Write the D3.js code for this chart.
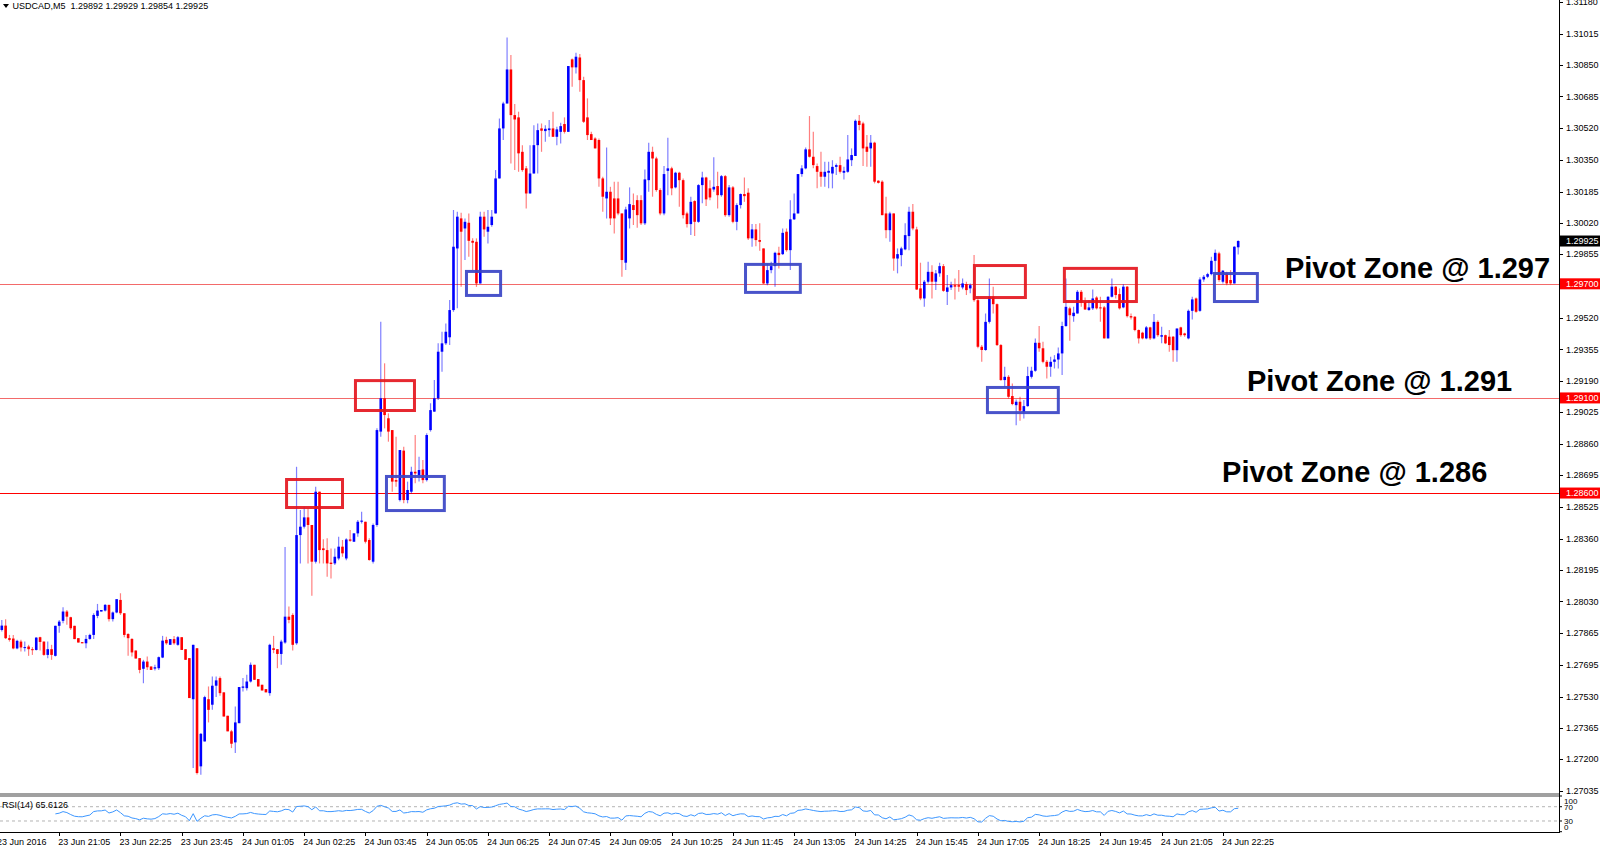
<!DOCTYPE html>
<html><head><meta charset="utf-8">
<script src="https://cdn.jsdelivr.net/npm/d3@7"></script>
<style>html,body{margin:0;padding:0;background:#fff;overflow:hidden}</style>
</head><body><svg id="c" width="1600" height="851"></svg>
<script>
// ---------- DATA (USDCAD M5, 23 Jun 19:50 .. 24 Jun 22:45) ----------
const symbolTitle = "USDCAD,M5";
const lastOHLC = ["1.29892", "1.29929", "1.29854", "1.29925"];
const opens = [
1.27880,1.27903,1.27837,1.27835,1.27783,1.27819,1.27786,1.27793,1.27779,1.27775,1.27842,1.27819,1.27749,1.27779,1.27744,1.27902,1.27928,1.27977,1.27947,1.27902,
1.27837,1.27816,1.27810,1.27833,1.27854,1.27954,1.27977,1.27982,1.28012,1.27937,1.27972,1.28038,1.27968,1.27859,1.27833,1.27772,1.27732,1.27676,1.27714,1.27688,
1.27677,1.27679,1.27735,1.27828,1.27802,1.27832,1.27802,1.27842,1.27779,1.27732,1.27516,1.27784,1.27163,1.27294,1.27516,1.27487,1.27587,1.27627,1.27552,1.27429,
1.27347,1.27289,1.27390,1.27576,1.27574,1.27609,1.27697,1.27622,1.27592,1.27569,1.27548,1.27784,1.27779,1.27754,1.27814,1.27950,1.27959,1.27810,1.28379,1.28423,
1.28472,1.28432,1.28239,1.28607,1.28309,1.28300,1.28234,1.28230,1.28256,1.28318,1.28256,1.28356,1.28344,1.28388,1.28449,1.28449,1.28353,1.28239,1.28432,1.28923,
1.29098,1.28993,1.28931,1.28668,1.28563,1.28823,1.28563,1.28607,1.28712,1.28695,1.28724,1.28668,1.28931,1.29028,1.29098,1.29343,1.29387,1.29419,1.29562,1.29886,
1.30044,1.29991,1.30021,1.29926,1.29921,1.29702,1.30053,1.29974,1.30009,1.30070,1.30254,1.30517,1.30648,1.30827,1.30587,1.30575,1.30394,1.30307,1.30175,1.30280,
1.30429,1.30517,1.30503,1.30508,1.30517,1.30473,1.30499,1.30540,1.30499,1.30880,1.30838,1.30890,1.30771,1.30575,1.30487,1.30464,1.30456,1.30254,1.30149,1.30184,
1.30149,1.30149,1.30070,1.29811,1.30044,1.30114,1.30140,1.30140,1.30018,1.30245,1.30394,1.30359,1.30193,1.30070,1.30294,1.30307,1.30207,1.30284,1.30245,1.30070,
1.30014,1.30135,1.30026,1.30219,1.30259,1.30202,1.30196,1.30214,1.30166,1.30266,1.30061,1.30207,1.30026,1.30114,1.30172,1.30179,1.29939,1.29986,1.29930,1.29886,
1.29702,1.29772,1.29793,1.29863,1.29856,1.29974,1.29877,1.30039,1.30070,1.30277,1.30307,1.30407,1.30368,1.30319,1.30289,1.30263,1.30284,1.30280,1.30315,1.30324,
1.30284,1.30289,1.30350,1.30372,1.30557,1.30543,1.30421,1.30412,1.30442,1.30242,1.30237,1.30070,1.29982,1.30070,1.29833,1.29851,1.29881,1.29951,1.30079,1.29986,
1.29676,1.29623,1.29711,1.29763,1.29711,1.29755,1.29793,1.29658,1.29681,1.29693,1.29693,1.29681,1.29699,1.29676,1.29676,1.29614,1.29369,1.29352,1.29500,1.29632,
1.29593,1.29378,1.29194,1.29211,1.29110,1.29062,1.29080,1.29027,1.29057,1.29211,1.29243,1.29390,1.29361,1.29290,1.29264,1.29290,1.29302,1.29334,1.29478,1.29571,
1.29530,1.29544,1.29658,1.29606,1.29562,1.29571,1.29628,1.29576,1.29576,1.29413,1.29632,1.29685,1.29646,1.29576,1.29685,1.29530,1.29527,1.29457,1.29443,1.29413,
1.29471,1.29413,1.29500,1.29422,1.29430,1.29422,1.29422,1.29351,1.29471,1.29439,1.29413,1.29558,1.29623,1.29558,1.29723,1.29737,1.29751,1.29821,1.29860,1.29711,
1.29755,1.29720,1.29702,1.29892];
const highs = [
1.27933,1.27937,1.27854,1.27854,1.27828,1.27828,1.27819,1.27802,1.27790,1.27842,1.27845,1.27819,1.27819,1.27802,1.27902,1.27933,1.28000,1.27985,1.27950,1.27902,
1.27837,1.27816,1.27854,1.27860,1.27968,1.28017,1.27985,1.28017,1.28012,1.27977,1.28042,1.28073,1.27968,1.27863,1.27837,1.27772,1.27732,1.27723,1.27740,1.27688,
1.27697,1.27740,1.27849,1.27845,1.27832,1.27849,1.27849,1.27842,1.27779,1.27732,1.27802,1.27784,1.27338,1.27534,1.27583,1.27635,1.27635,1.27635,1.27552,1.27429,
1.27355,1.27478,1.27580,1.27627,1.27644,1.27709,1.27697,1.27622,1.27592,1.27569,1.27807,1.27849,1.27779,1.27828,1.28316,1.28003,1.27968,1.28738,1.28511,1.28528,
1.28519,1.28432,1.28633,1.28607,1.28357,1.28362,1.28309,1.28309,1.28370,1.28353,1.28362,1.28405,1.28388,1.28458,1.28502,1.28449,1.28362,1.28440,1.28940,1.29501,
1.29282,1.29019,1.28931,1.28896,1.28826,1.28844,1.28660,1.28738,1.28905,1.28791,1.28774,1.28914,1.29072,1.29194,1.29387,1.29448,1.29492,1.29615,1.30088,1.30079,
1.30074,1.30044,1.30070,1.29939,1.29939,1.30079,1.30079,1.30088,1.30088,1.30298,1.30569,1.30657,1.30995,1.30903,1.30645,1.30605,1.30429,1.30319,1.30429,1.30534,
1.30543,1.30543,1.30534,1.30561,1.30605,1.30526,1.30547,1.30575,1.30845,1.30885,1.30915,1.30908,1.30789,1.30675,1.30499,1.30470,1.30464,1.30263,1.30417,1.30210,
1.30237,1.30237,1.30070,1.30105,1.30207,1.30175,1.30166,1.30166,1.30301,1.30442,1.30421,1.30368,1.30202,1.30319,1.30468,1.30315,1.30289,1.30289,1.30254,1.30079,
1.30158,1.30140,1.30224,1.30289,1.30263,1.30245,1.30365,1.30289,1.30272,1.30272,1.30219,1.30214,1.30123,1.30175,1.30259,1.30202,1.30014,1.30014,1.30018,1.29886,
1.29807,1.29816,1.29869,1.29895,1.29991,1.29991,1.30140,1.30175,1.30277,1.30324,1.30417,1.30582,1.30500,1.30333,1.30394,1.30342,1.30342,1.30350,1.30333,1.30368,
1.30315,1.30482,1.30412,1.30564,1.30587,1.30552,1.30482,1.30482,1.30447,1.30245,1.30245,1.30158,1.30079,1.30070,1.29886,1.29895,1.30018,1.30105,1.30119,1.30000,
1.29811,1.29720,1.29816,1.29798,1.29772,1.29811,1.29804,1.29746,1.29711,1.29728,1.29772,1.29728,1.29711,1.29702,1.29851,1.29623,1.29378,1.29544,1.29728,1.29684,
1.29597,1.29383,1.29264,1.29220,1.29176,1.29092,1.29106,1.29089,1.29264,1.29264,1.29413,1.29478,1.29395,1.29299,1.29317,1.29325,1.29365,1.29500,1.29728,1.29579,
1.29579,1.29667,1.29667,1.29628,1.29614,1.29670,1.29635,1.29632,1.29583,1.29635,1.29728,1.29688,1.29676,1.29698,1.29688,1.29544,1.29530,1.29460,1.29448,1.29478,
1.29474,1.29541,1.29509,1.29474,1.29433,1.29457,1.29425,1.29465,1.29474,1.29443,1.29565,1.29632,1.29628,1.29734,1.29746,1.29758,1.29842,1.29881,1.29869,1.29772,
1.29763,1.29772,1.29898,1.29929];
const lows = [
1.27872,1.27832,1.27819,1.27779,1.27779,1.27767,1.27767,1.27744,1.27749,1.27772,1.27772,1.27744,1.27732,1.27723,1.27740,1.27866,1.27916,1.27907,1.27880,1.27832,
1.27814,1.27810,1.27784,1.27828,1.27832,1.27942,1.27977,1.27977,1.27924,1.27924,1.27968,1.27959,1.27842,1.27744,1.27740,1.27730,1.27653,1.27600,1.27670,1.27670,
1.27667,1.27670,1.27732,1.27802,1.27802,1.27802,1.27797,1.27775,1.27723,1.27522,1.27154,1.27120,1.27119,1.27294,1.27394,1.27460,1.27527,1.27534,1.27425,1.27347,
1.27259,1.27233,1.27390,1.27557,1.27562,1.27604,1.27618,1.27583,1.27562,1.27552,1.27534,1.27758,1.27679,1.27697,1.27808,1.27915,1.27772,1.27802,1.28230,1.28414,
1.28230,1.28060,1.28230,1.28230,1.28230,1.28160,1.28151,1.28221,1.28247,1.28265,1.28247,1.28344,1.28344,1.28370,1.28440,1.28335,1.28244,1.28230,1.28423,1.28896,
1.28940,1.28870,1.28607,1.28633,1.28555,1.28546,1.28546,1.28598,1.28651,1.28660,1.28651,1.28660,1.28923,1.29028,1.29089,1.29238,1.29378,1.29378,1.29553,1.29571,
1.29684,1.29825,1.29842,1.29772,1.29684,1.29702,1.29947,1.29912,1.30000,1.30070,1.30254,1.30456,1.30648,1.30333,1.30298,1.30289,1.30289,1.30096,1.30175,1.30280,
1.30280,1.30394,1.30447,1.30473,1.30473,1.30429,1.30438,1.30490,1.30499,1.30736,1.30806,1.30710,1.30545,1.30456,1.30456,1.30412,1.30210,1.30079,1.30044,1.30009,
1.29965,1.30061,1.29737,1.29772,1.29991,1.30009,1.29995,1.30009,1.30009,1.30184,1.30158,1.30184,1.30061,1.30061,1.30166,1.30166,1.30202,1.30105,1.30044,1.29996,
1.29956,1.29951,1.30021,1.30123,1.30109,1.30140,1.30184,1.30096,1.30158,1.30053,1.30053,1.30018,1.29982,1.30096,1.30131,1.29930,1.29895,1.29898,1.29874,1.29699,
1.29693,1.29755,1.29685,1.29781,1.29851,1.29869,1.29772,1.30035,1.30070,1.30263,1.30302,1.30364,1.30307,1.30202,1.30210,1.30210,1.30202,1.30202,1.30272,1.30280,
1.30249,1.30284,1.30319,1.30372,1.30508,1.30319,1.30315,1.30315,1.30228,1.30228,1.30061,1.29939,1.29921,1.29769,1.29755,1.29793,1.29877,1.29877,1.29982,1.29667,
1.29614,1.29579,1.29702,1.29623,1.29667,1.29737,1.29658,1.29588,1.29667,1.29618,1.29658,1.29671,1.29641,1.29650,1.29606,1.29361,1.29290,1.29348,1.29492,1.29544,
1.29373,1.29190,1.29159,1.29097,1.29062,1.28957,1.28980,1.28992,1.29054,1.29202,1.29238,1.29343,1.29282,1.29202,1.29211,1.29255,1.29255,1.29220,1.29474,1.29401,
1.29500,1.29544,1.29579,1.29562,1.29558,1.29562,1.29565,1.29500,1.29413,1.29413,1.29628,1.29623,1.29565,1.29571,1.29523,1.29513,1.29450,1.29386,1.29408,1.29408,
1.29404,1.29408,1.29422,1.29387,1.29383,1.29343,1.29290,1.29290,1.29422,1.29422,1.29408,1.29513,1.29548,1.29553,1.29711,1.29730,1.29745,1.29746,1.29711,1.29702,
1.29693,1.29693,1.29702,1.29854];
const closes = [
1.27903,1.27837,1.27828,1.27783,1.27823,1.27788,1.27790,1.27779,1.27775,1.27840,1.27817,1.27749,1.27779,1.27749,1.27902,1.27924,1.27977,1.27950,1.27889,1.27832,
1.27814,1.27810,1.27833,1.27854,1.27959,1.27982,1.27985,1.28012,1.27937,1.27972,1.28042,1.27968,1.27854,1.27837,1.27762,1.27730,1.27670,1.27714,1.27684,1.27670,
1.27684,1.27737,1.27824,1.27810,1.27832,1.27810,1.27842,1.27775,1.27723,1.27522,1.27802,1.27128,1.27334,1.27527,1.27460,1.27587,1.27615,1.27548,1.27425,1.27347,
1.27282,1.27394,1.27580,1.27583,1.27609,1.27697,1.27618,1.27583,1.27562,1.27552,1.27802,1.27775,1.27754,1.27819,1.27950,1.27933,1.27802,1.28379,1.28423,1.28472,
1.28432,1.28239,1.28607,1.28300,1.28300,1.28230,1.28227,1.28265,1.28318,1.28283,1.28356,1.28349,1.28388,1.28449,1.28455,1.28344,1.28248,1.28432,1.28931,1.29098,
1.29010,1.28923,1.28660,1.28660,1.28826,1.28563,1.28616,1.28712,1.28703,1.28721,1.28668,1.28905,1.29036,1.29098,1.29343,1.29387,1.29448,1.29562,1.29895,1.30053,
1.29974,1.30026,1.29926,1.29916,1.29702,1.30053,1.29986,1.30000,1.30053,1.30254,1.30517,1.30648,1.30827,1.30587,1.30564,1.30386,1.30298,1.30175,1.30280,1.30429,
1.30508,1.30505,1.30515,1.30517,1.30473,1.30512,1.30529,1.30499,1.30845,1.30838,1.30894,1.30771,1.30552,1.30482,1.30456,1.30412,1.30254,1.30158,1.30184,1.30044,
1.30044,1.30070,1.29825,1.30091,1.30119,1.30088,1.30061,1.30018,1.30249,1.30394,1.30359,1.30193,1.30070,1.30277,1.30307,1.30202,1.30284,1.30245,1.30061,1.30014,
1.30131,1.30026,1.30219,1.30259,1.30144,1.30154,1.30210,1.30166,1.30266,1.30061,1.30207,1.30026,1.30114,1.30172,1.30161,1.29939,1.29986,1.29930,1.29921,1.29702,
1.29772,1.29793,1.29863,1.29851,1.29968,1.29877,1.30039,1.30070,1.30277,1.30307,1.30407,1.30368,1.30324,1.30289,1.30263,1.30289,1.30294,1.30315,1.30324,1.30289,
1.30294,1.30354,1.30377,1.30557,1.30535,1.30412,1.30394,1.30442,1.30237,1.30231,1.30061,1.29982,1.30070,1.29833,1.29856,1.29886,1.29956,1.30079,1.29991,1.29670,
1.29623,1.29711,1.29763,1.29711,1.29755,1.29793,1.29663,1.29681,1.29693,1.29685,1.29685,1.29702,1.29667,1.29693,1.29614,1.29369,1.29352,1.29500,1.29632,1.29593,
1.29378,1.29194,1.29211,1.29106,1.29068,1.29080,1.29033,1.29057,1.29215,1.29243,1.29390,1.29361,1.29290,1.29264,1.29290,1.29302,1.29334,1.29478,1.29579,1.29535,
1.29548,1.29658,1.29600,1.29565,1.29576,1.29623,1.29571,1.29571,1.29413,1.29632,1.29685,1.29641,1.29571,1.29685,1.29530,1.29523,1.29457,1.29413,1.29413,1.29471,
1.29413,1.29500,1.29430,1.29430,1.29387,1.29378,1.29351,1.29465,1.29430,1.29430,1.29558,1.29618,1.29553,1.29723,1.29737,1.29751,1.29821,1.29863,1.29720,1.29769,
1.29702,1.29702,1.29895,1.29925];

const priceTicks = [1.31180,1.31015,1.30850,1.30685,1.30520,1.30350,1.30185,1.30020,1.29855,1.29520,1.29355,1.29190,1.29025,1.28860,1.28695,1.28525,1.28360,1.28195,1.28030,1.27865,1.27695,1.27530,1.27365,1.27200,1.27035];
const timeLabels = ["23 Jun 2016","23 Jun 21:05","23 Jun 22:25","23 Jun 23:45","24 Jun 01:05","24 Jun 02:25","24 Jun 03:45","24 Jun 05:05","24 Jun 06:25","24 Jun 07:45","24 Jun 09:05","24 Jun 10:25","24 Jun 11:45","24 Jun 13:05","24 Jun 14:25","24 Jun 15:45","24 Jun 17:05","24 Jun 18:25","24 Jun 19:45","24 Jun 21:05","24 Jun 22:25"];
const timeLabelBars = [-1,15,31,47,63,79,95,111,127,143,159,175,191,207,223,239,255,271,287,303,319];
const pivotLevels = [1.297, 1.291, 1.286];
const pivotTexts = ["Pivot Zone @ 1.297", "Pivot Zone @ 1.291", "Pivot Zone @ 1.286"];
const pivotTextBars = [335.2, 325.3, 318.8];
const rsiLevels = [100, 70, 30, 0];
const rsiTitle = "RSI(14) 65.6126";
// zone boxes: [first bar, last bar, top price, bottom price, kind]
const zoneBars0 = [74.0, 92.0, 100.1, 121.0, 193.9, 253.7, 257.1, 277.2, 316.4];
const zoneBars1 = [89.4, 108.2, 116.0, 130.7, 209.0, 267.8, 276.4, 296.8, 328.4];
const zoneTop   = [1.28679, 1.29199, 1.28695, 1.29773, 1.29810, 1.29804, 1.29163, 1.29789, 1.29762];
const zoneBot   = [1.28516, 1.29026, 1.28500, 1.29631, 1.29647, 1.29620, 1.29015, 1.29599, 1.29599];
const zoneKind  = ["sell","sell","buy","buy","buy","sell","buy","sell","buy"];

// ---------- DRAW ----------
const svg = d3.select("#c");
const W = 1600, axisX = 1559, mainBottom = 793, rsiTop = 797, rsiBottom = 832;
const n = closes.length;
const x = d3.scaleLinear().domain([0, 323]).range([1.8, 1238.2]);
const y = d3.scaleLinear().domain([1.270229, 1.311922]).range([mainBottom, 0]);
const ry = d3.scaleLinear().domain([0, 100]).range([831.7, 796]);
const FONT = "'Liberation Sans', Arial, sans-serif";
const BLUE = "#0000ff", RED = "#ff0000";

svg.append("rect").attr("width", W).attr("height", 851).attr("fill", "#fff");
const plot = svg.append("g");
plot.append("clipPath").attr("id","clipMain").append("rect").attr("x",0).attr("y",0).attr("width",axisX).attr("height",mainBottom);
const main = plot.append("g").attr("clip-path","url(#clipMain)");

// pivot lines
const lineCol = ["#f36a6a", "#f36a6a", "#ff0000"];
pivotLevels.forEach((p,i)=>{
  main.append("line").attr("x1",0).attr("x2",axisX).attr("y1",Math.round(y(p))+0.5).attr("y2",Math.round(y(p))+0.5)
    .attr("stroke",lineCol[i]).attr("stroke-width",1);
});

// candles
const bars = d3.range(n);
const cg = main.append("g");
cg.selectAll("line.w").data(bars).join("line")
  .attr("x1",i=>x(i)).attr("x2",i=>x(i))
  .attr("y1",i=>y(highs[i])).attr("y2",i=>y(lows[i]))
  .attr("stroke",i=>closes[i]>=opens[i]?BLUE:RED).attr("stroke-opacity",0.5).attr("stroke-width",1.2);
cg.selectAll("rect.b").data(bars).join("rect")
  .attr("x",i=>x(i)-1.3).attr("width",2.6)
  .attr("y",i=>y(Math.max(opens[i],closes[i])))
  .attr("height",i=>Math.max(1, Math.abs(y(opens[i])-y(closes[i]))))
  .attr("fill",i=>closes[i]>=opens[i]?BLUE:RED);

// zone boxes
const zoneCol = {sell:"#e4161e", buy:"#3a44c6"};
zoneKind.forEach((k,i)=>{
  main.append("rect")
    .attr("x", x(zoneBars0[i])+1.5).attr("y", y(zoneTop[i])+1.5)
    .attr("width", x(zoneBars1[i])-x(zoneBars0[i])-3)
    .attr("height", y(zoneBot[i])-y(zoneTop[i])-3)
    .attr("fill","none").attr("stroke",zoneCol[k]).attr("stroke-width",3).attr("stroke-opacity",0.92);
});

// pivot texts
const textOffsets = [-6, -7, -11];
pivotTexts.forEach((t,i)=>{
  svg.append("text").attr("x", x(pivotTextBars[i])).attr("y", y(pivotLevels[i]) + textOffsets[i])
    .attr("font-family", FONT).attr("font-weight","bold").attr("font-size", 29).attr("fill","#000").text(t);
});

// right price axis
svg.append("line").attr("x1",axisX+0.5).attr("x2",axisX+0.5).attr("y1",0).attr("y2",rsiBottom).attr("stroke","#000");
const ya = svg.append("g");
priceTicks.forEach(p=>{
  const yy = y(p);
  ya.append("line").attr("x1",axisX).attr("x2",axisX+4).attr("y1",Math.round(yy)+0.5).attr("y2",Math.round(yy)+0.5).attr("stroke","#000");
  ya.append("text").attr("x",axisX+7).attr("y",yy).attr("dy","0.35em").attr("font-family",FONT).attr("font-size",9).attr("fill","#000").text(p.toFixed(5));
});
pivotLevels.forEach(p=>{
  const yy = y(p);
  ya.append("rect").attr("x",axisX+1).attr("y",yy-5.5).attr("width",W-axisX-1).attr("height",11).attr("fill","#ff0000");
  ya.append("text").attr("x",axisX+7).attr("y",yy).attr("dy","0.35em").attr("font-family",FONT).attr("font-size",9).attr("fill","#fff").text(p.toFixed(5));
});
{
  const last = closes[n-1], yy = y(last);
  ya.append("rect").attr("x",axisX+1).attr("y",yy-5.5).attr("width",W-axisX-1).attr("height",11).attr("fill","#000");
  ya.append("text").attr("x",axisX+7).attr("y",yy).attr("dy","0.35em").attr("font-family",FONT).attr("font-size",9).attr("fill","#fff").text(last.toFixed(5));
}

// header
svg.append("path").attr("d","M3,4 L9,4 L6,8 Z").attr("fill","#000");
svg.append("text").attr("x",12.5).attr("y",9).attr("font-family",FONT).attr("font-size",9).attr("fill","#000")
  .attr("xml:space","preserve").text(symbolTitle + "  " + lastOHLC.join(" "));

// separator
svg.append("rect").attr("x",0).attr("y",793).attr("width",axisX).attr("height",4).attr("fill","#a0a0a0");

// RSI panel
const rsiVals = new Array(n).fill(null);
let ag = 0, al = 0;
for (let i = 1; i < n; i++) {
  const d = closes[i] - closes[i-1], g = Math.max(d,0), l = Math.max(-d,0);
  if (i <= 14) { ag += g; al += l; if (i === 14) { ag /= 14; al /= 14; rsiVals[i] = al === 0 ? 100 : 100 - 100/(1+ag/al); } }
  else { ag = (ag*13+g)/14; al = (al*13+l)/14; rsiVals[i] = al === 0 ? 100 : 100 - 100/(1+ag/al); }
}
[70,30].forEach(v=>{
  svg.append("line").attr("x1",0).attr("x2",axisX).attr("y1",ry(v)).attr("y2",ry(v))
    .attr("stroke","#b4b4b4").attr("stroke-dasharray","3,3");
});
svg.append("path").datum(bars.filter(i=>rsiVals[i]!==null))
  .attr("d", d3.line().x(i=>x(i)).y(i=>ry(rsiVals[i])))
  .attr("fill","none").attr("stroke","#3d97ff").attr("stroke-width",1);
svg.append("text").attr("x",2).attr("y",808).attr("font-family",FONT).attr("font-size",9).attr("fill","#000").text(rsiTitle);
rsiLevels.forEach(v=>{
  const yy = Math.min(Math.max(ry(v), rsiTop+4.5), rsiBottom-4.5);
  svg.append("line").attr("x1",axisX).attr("x2",axisX+3).attr("y1",ry(v)).attr("y2",ry(v)).attr("stroke","#000");
  svg.append("text").attr("x",axisX+5).attr("y",yy).attr("dy","0.35em").attr("font-family",FONT).attr("font-size",8).attr("fill","#000").text(v);
});

// time axis
svg.append("line").attr("x1",0).attr("x2",axisX+1).attr("y1",rsiBottom+0.5).attr("y2",rsiBottom+0.5).attr("stroke","#000");
timeLabelBars.forEach((b,i)=>{
  const xx = Math.round(x(b))+0.5;
  svg.append("line").attr("x1",xx).attr("x2",xx).attr("y1",rsiBottom).attr("y2",rsiBottom+4).attr("stroke","#000");
  svg.append("text").attr("x",x(b)-1).attr("y",845).attr("font-family",FONT).attr("font-size",9).attr("fill","#000").text(timeLabels[i]);
});
</script></body></html>
